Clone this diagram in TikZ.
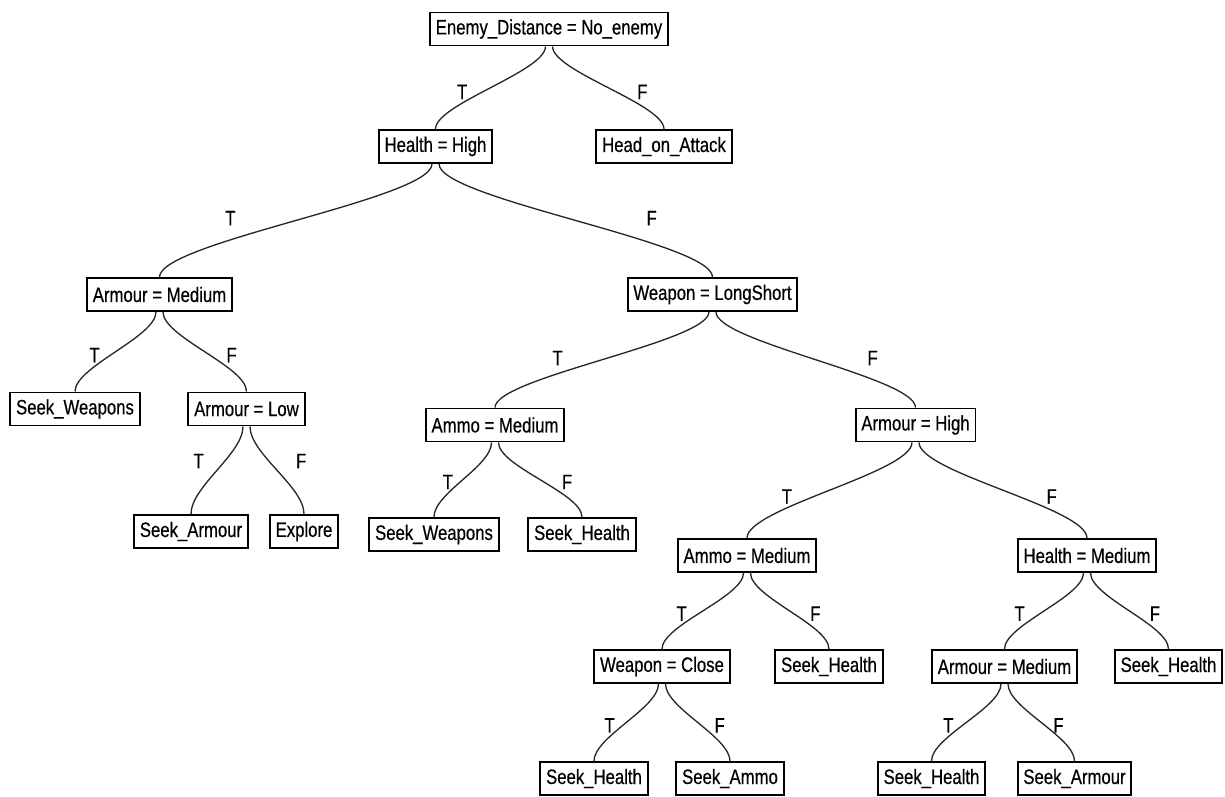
\documentclass[tikz,border=0pt]{standalone}
\usepackage{fontspec}
\setmainfont{Liberation Sans}[FakeStretch=0.8,FakeBold=0.4]
\usepackage{tikz}
\tikzset{
  dt_test/.style={rectangle,
    draw=black,line width=1.1pt,fill=white,
    font=\fontsize{11.9}{13}\selectfont,
    inner xsep=3.3pt,inner ysep=2pt,minimum height=0.66cm},
  dt_leaf/.style={dt_test},
  br/.style={draw=black!85,line width=0.75pt},
  lbl/.style={pos=0.68,above,inner sep=2pt,
    font=\fontsize{11.9}{13}\selectfont},
  lblf/.style={lbl,xshift=3pt},
}

\begin{document}
\begin{tikzpicture}
  \useasboundingbox (0,0) rectangle (24.5,-15.94);
  % tests and actions
  \node (root) [dt_test] at (10.98,-0.58)  {Enemy\_Distance = No\_enemy};
  \node (hh)   [dt_test] at (8.71,-2.93)   {Health = High};
  \node (atk)  [dt_leaf] at (13.28,-2.93)  {Head\_on\_Attack};
  \node (am1)  [dt_test] at (3.19,-5.89)   {Armour = Medium};
  \node (wls)  [dt_test] at (14.25,-5.89)  {Weapon = LongShort};
  \node (sw1)  [dt_leaf] at (1.50,-8.18)   {Seek\_Weapons};
  \node (al)   [dt_test] at (4.93,-8.18)   {Armour = Low};
  \node (sa1)  [dt_leaf] at (3.82,-10.63)  {Seek\_Armour};
  \node (exp)  [dt_leaf] at (6.08,-10.63)  {Explore};
  \node (amm1) [dt_test] at (9.90,-8.50)   {Ammo = Medium};
  \node (ah)   [dt_test] at (18.31,-8.50)  {Armour = High};
  \node (sw2)  [dt_leaf] at (8.68,-10.69)  {Seek\_Weapons};
  \node (sh1)  [dt_leaf] at (11.64,-10.69) {Seek\_Health};
  \node (amm2) [dt_test] at (14.94,-11.11) {Ammo = Medium};
  \node (hm)   [dt_test] at (21.74,-11.11) {Health = Medium};
  \node (wc)   [dt_test] at (13.24,-13.33) {Weapon = Close};
  \node (sh2)  [dt_leaf] at (16.58,-13.33) {Seek\_Health};
  \node (am2)  [dt_test] at (20.09,-13.33) {Armour = Medium};
  \node (sh3)  [dt_leaf] at (23.37,-13.33) {Seek\_Health};
  \node (sh4)  [dt_leaf] at (11.88,-15.57) {Seek\_Health};
  \node (sam)  [dt_leaf] at (14.60,-15.57) {Seek\_Ammo};
  \node (sh5)  [dt_leaf] at (18.63,-15.57) {Seek\_Health};
  \node (sa2)  [dt_leaf] at (21.49,-15.57) {Seek\_Armour};
  % branches
  \draw[br] ([xshift=-2pt]root.south) .. controls +(0,-0.5) and +(0,0.5) .. node[lbl]{T} (hh.north);
  \draw[br] ([xshift=2pt]root.south)  .. controls +(0,-0.5) and +(0,0.5) .. node[lblf]{F} (atk.north);
  \draw[br] ([xshift=-2pt]hh.south) .. controls +(0,-0.7) and +(0,0.7) .. node[lbl,xshift=0.1cm,yshift=0.24cm]{T} (am1.north);
  \draw[br] ([xshift=2pt]hh.south)  .. controls +(0,-0.7) and +(0,0.7) .. node[lblf,yshift=0.24cm]{F} (wls.north);
  \draw[br] ([xshift=-2pt]am1.south) .. controls +(0,-0.5) and +(0,0.5) .. node[lbl]{T} (sw1.north);
  \draw[br] ([xshift=2pt]am1.south)  .. controls +(0,-0.5) and +(0,0.5) .. node[lblf]{F} (al.north);
  \draw[br] ([xshift=-2pt]al.south) .. controls +(0,-0.55) and +(0,0.55) .. node[lbl,xshift=-0.1cm,yshift=0.28cm]{T} (sa1.north);
  \draw[br] ([xshift=2pt]al.south)  .. controls +(0,-0.55) and +(0,0.55) .. node[lblf,xshift=0.1cm,yshift=0.28cm]{F} (exp.north);
  \draw[br] ([xshift=-2pt]wls.south) .. controls +(0,-0.6) and +(0,0.6) .. node[lbl,xshift=0.22cm,yshift=0.16cm]{T} (amm1.north);
  \draw[br] ([xshift=2pt]wls.south)  .. controls +(0,-0.6) and +(0,0.6) .. node[lblf,yshift=0.16cm]{F} (ah.north);
  \draw[br] ([xshift=-2pt]amm1.south) .. controls +(0,-0.48) and +(0,0.48) .. node[lbl]{T} (sw2.north);
  \draw[br] ([xshift=2pt]amm1.south)  .. controls +(0,-0.48) and +(0,0.48) .. node[lblf]{F} (sh1.north);
  \draw[br] ([xshift=-2pt]ah.south) .. controls +(0,-0.6) and +(0,0.6) .. node[lbl]{T} (amm2.north);
  \draw[br] ([xshift=2pt]ah.south)  .. controls +(0,-0.6) and +(0,0.6) .. node[lblf]{F} (hm.north);
  \draw[br] ([xshift=-2pt]amm2.south) .. controls +(0,-0.48) and +(0,0.48) .. node[lbl]{T} (wc.north);
  \draw[br] ([xshift=2pt]amm2.south)  .. controls +(0,-0.48) and +(0,0.48) .. node[lblf]{F} (sh2.north);
  \draw[br] ([xshift=-2pt]hm.south) .. controls +(0,-0.48) and +(0,0.48) .. node[lbl,xshift=-0.08cm]{T} (am2.north);
  \draw[br] ([xshift=2pt]hm.south)  .. controls +(0,-0.48) and +(0,0.48) .. node[lblf]{F} (sh3.north);
  \draw[br] ([xshift=-2pt]wc.south) .. controls +(0,-0.48) and +(0,0.48) .. node[lbl]{T} (sh4.north);
  \draw[br] ([xshift=2pt]wc.south)  .. controls +(0,-0.48) and +(0,0.48) .. node[lblf]{F} (sam.north);
  \draw[br] ([xshift=-2pt]am2.south) .. controls +(0,-0.48) and +(0,0.48) .. node[lbl]{T} (sh5.north);
  \draw[br] ([xshift=2pt]am2.south)  .. controls +(0,-0.48) and +(0,0.48) .. node[lbl]{F} (sa2.north);
\end{tikzpicture}
\end{document}
